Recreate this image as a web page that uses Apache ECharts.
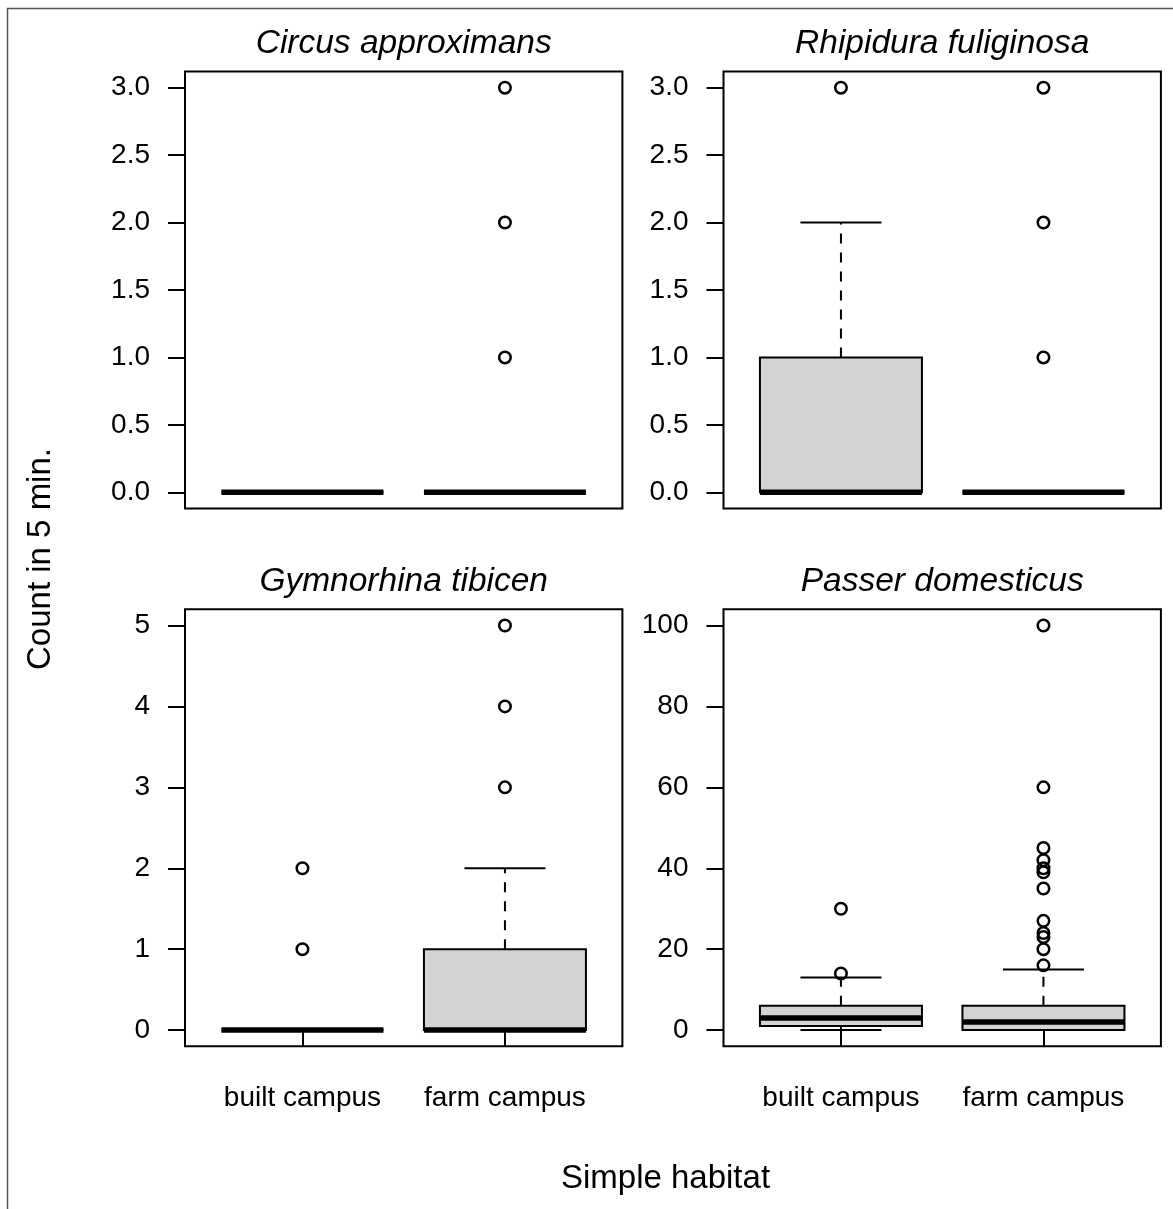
<!DOCTYPE html>
<html>
<head>
<meta charset="utf-8">
<script src="https://cdn.jsdelivr.net/npm/echarts@6/dist/echarts.min.js"></script>
<style>
  html, body { margin: 0; padding: 0; background: #fff; }
  #chart { width: 1173px; height: 1209px; }
</style>
</head>
<body>
<div id="chart"></div>
<script>
// ---------- data ----------
const categories = ['built campus', 'farm campus'];
const categoryPositions = [1, 2];
const panelTitles = ['Circus approximans', 'Rhipidura fuliginosa', 'Gymnorhina tibicen', 'Passer domesticus'];
const yAxisTitle = 'Count in 5 min.';
const xAxisTitle = 'Simple habitat';

// box stats per category: [lower whisker, Q1, median, Q3, upper whisker]
const circusBox     = [[0, 0, 0, 0, 0], [0, 0, 0, 0, 0]];
const circusOut     = [[], [1, 2, 3]];
const rhipiduraBox  = [[0, 0, 0, 1, 2], [0, 0, 0, 0, 0]];
const rhipiduraOut  = [[3], [1, 2, 3]];
const gymnorhinaBox = [[0, 0, 0, 0, 0], [0, 0, 0, 1, 2]];
const gymnorhinaOut = [[1, 2], [3, 4, 5]];
const passerBox     = [[0, 1, 3, 6, 13], [0, 0, 2, 6, 15]];
const passerOut     = [[14, 30], [16, 20, 23, 24, 27, 35, 39, 40, 42, 45, 60, 100]];

// y tick labels
const ticksSmall  = [0, 0.5, 1, 1.5, 2, 2.5, 3];
const ticksGym    = [0, 1, 2, 3, 4, 5];
const ticksPasser = [0, 20, 40, 60, 80, 100];

// ---------- layout ----------
const FONT = '"Liberation Sans", Arial, Helvetica, sans-serif';
const plotW = 437.4;
const plotH = 437;
const lefts = [185, 723.5, 185, 723.5];
const tops = [71.5, 71.5, 609.3, 609.3];

const panels = [
  { box: circusBox, out: circusOut, ticks: ticksSmall, dec: 1 },
  { box: rhipiduraBox, out: rhipiduraOut, ticks: ticksSmall, dec: 1 },
  { box: gymnorhinaBox, out: gymnorhinaOut, ticks: ticksGym, dec: 0 },
  { box: passerBox, out: passerOut, ticks: ticksPasser, dec: 0 }
];

const grids = [], xAxes = [], yAxes = [], series = [];

function renderBox(params, api) {
  const x = api.value(0);
  const lo = api.value(1), q1 = api.value(2), med = api.value(3), q3 = api.value(4), hi = api.value(5);
  const P = (xx, yy) => api.coord([xx, yy]);
  const bw = 0.4, cw = 0.2;
  const a = P(x - bw, q3), b = P(x + bw, q1);
  const stroke = '#000';
  const wl = { stroke: stroke, lineWidth: 2, lineDash: [10, 9] };
  const sl = { stroke: stroke, lineWidth: 2 };
  const q3p = P(x, q3), hip = P(x, hi), q1p = P(x, q1), lop = P(x, lo);
  const capHiL = P(x - cw, hi), capHiR = P(x + cw, hi);
  const capLoL = P(x - cw, lo), capLoR = P(x + cw, lo);
  const mL = P(x - bw, med), mR = P(x + bw, med);
  return {
    type: 'group',
    children: [
      { type: 'rect', shape: { x: a[0], y: a[1], width: b[0] - a[0], height: b[1] - a[1] },
        style: { fill: '#d3d3d3', stroke: stroke, lineWidth: 2 } },
      { type: 'line', shape: { x1: q3p[0], y1: q3p[1], x2: hip[0], y2: hip[1] }, style: wl },
      { type: 'line', shape: { x1: q1p[0], y1: q1p[1], x2: lop[0], y2: lop[1] }, style: wl },
      { type: 'line', shape: { x1: capHiL[0], y1: capHiL[1], x2: capHiR[0], y2: capHiR[1] }, style: sl },
      { type: 'line', shape: { x1: capLoL[0], y1: capLoL[1], x2: capLoR[0], y2: capLoR[1] }, style: sl },
      { type: 'line', shape: { x1: mL[0], y1: mL[1], x2: mR[0], y2: mR[1] },
        style: { stroke: stroke, lineWidth: 5.5, lineCap: 'butt' } }
    ]
  };
}

panels.forEach((pn, i) => {
  const isBottom = i >= 2;
  const tmin = pn.ticks[0], tmax = pn.ticks[pn.ticks.length - 1];
  const ext = (tmax - tmin) * 0.04;
  grids.push({
    left: lefts[i], top: tops[i], width: plotW, height: plotH,
    show: true, borderColor: '#000', borderWidth: 2, backgroundColor: 'transparent',
    containLabel: false, outerBoundsMode: 'none'
  });
  xAxes.push({
    type: 'value', gridIndex: i, min: 0.42, max: 2.58,
    show: isBottom,
    axisLine: { show: false },
    splitLine: { show: false },
    axisTick: { show: isBottom, customValues: categoryPositions, length: 17, inside: false,
                lineStyle: { color: '#000', width: 2 } },
    axisLabel: { show: isBottom, customValues: categoryPositions, margin: 38,
                 fontFamily: FONT, fontSize: 28, color: '#000',
                 formatter: v => categories[Math.round(v) - 1] || '' }
  });
  yAxes.push({
    type: 'value', gridIndex: i, min: tmin - ext, max: tmax + ext,
    axisLine: { show: false },
    splitLine: { show: false },
    axisTick: { show: true, customValues: pn.ticks, length: 17, inside: false,
                lineStyle: { color: '#000', width: 2 } },
    axisLabel: { show: true, customValues: pn.ticks, margin: 35,
                 fontFamily: FONT, fontSize: 28, color: '#000',
                 formatter: v => Number(v).toFixed(pn.dec) }
  });
  const boxData = pn.box.map((s, k) => [categoryPositions[k]].concat(s));
  series.push({
    type: 'custom', xAxisIndex: i, yAxisIndex: i, renderItem: renderBox,
    data: boxData, silent: true, clip: false
  });
  const outData = [];
  pn.out.forEach((arr, k) => arr.forEach(v => outData.push([categoryPositions[k], v])));
  series.push({
    type: 'scatter', xAxisIndex: i, yAxisIndex: i, data: outData, silent: true,
    symbol: 'circle', symbolSize: 11.5,
    itemStyle: { color: 'rgba(0,0,0,0)', borderColor: '#000', borderWidth: 2.5, opacity: 1 }
  });
});

const titleCenters = [
  [lefts[0] + plotW / 2, 44], [lefts[1] + plotW / 2, 44],
  [lefts[2] + plotW / 2, 581.5], [lefts[3] + plotW / 2, 581.5]
];

const graphics = [
  { type: 'rect', shape: { x: 7.5, y: 8.5, width: 1250, height: 1300 },
    style: { fill: 'none', stroke: '#555', lineWidth: 1.5 }, silent: true }
];
panelTitles.forEach((t, i) => {
  graphics.push({
    type: 'text', x: titleCenters[i][0], y: titleCenters[i][1],
    style: { text: t, font: 'italic 33.5px ' + FONT, fill: '#000', textAlign: 'center', textVerticalAlign: 'middle' }
  });
});
graphics.push({
  type: 'text', x: 41, y: 559, rotation: Math.PI / 2,
  style: { text: yAxisTitle, font: '33px ' + FONT, fill: '#000', textAlign: 'center', textVerticalAlign: 'middle' }
});
graphics.push({
  type: 'text', x: 665.5, y: 1179,
  style: { text: xAxisTitle, font: '33px ' + FONT, fill: '#000', textAlign: 'center', textVerticalAlign: 'middle' }
});

const chart = echarts.init(document.getElementById('chart'), null, { renderer: 'canvas' });
chart.setOption({
  animation: false,
  backgroundColor: '#fff',
  grid: grids,
  xAxis: xAxes,
  yAxis: yAxes,
  series: series,
  graphic: graphics
});
</script>
</body>
</html>
